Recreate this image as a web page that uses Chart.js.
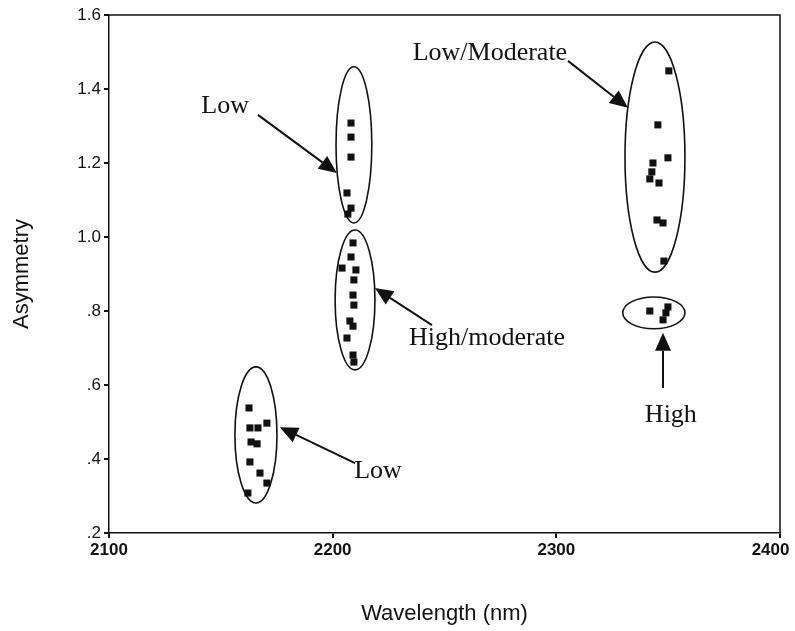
<!DOCTYPE html>
<html><head><meta charset="utf-8">
<script src="https://cdn.jsdelivr.net/npm/chart.js@4/dist/chart.umd.min.js"></script>
<style>html,body{margin:0;padding:0;background:#fff}</style>
</head><body>
<canvas id="c" width="795" height="631"></canvas>
<script>
// ---- data ----
const xTickValues = [2100, 2200, 2300, 2400];
const yTickValues = [0.2, 0.4, 0.6, 0.8, 1.0, 1.2, 1.4, 1.6];

const lowBottomX = [2162.6, 2163.0, 2166.6, 2170.6, 2163.5, 2166.2, 2163.0, 2167.5, 2170.6, 2162.1];
const lowBottomY = [0.538, 0.484, 0.484, 0.497, 0.446, 0.441, 0.392, 0.362, 0.335, 0.308];

const lowTopX = [2208.2, 2208.2, 2208.2, 2206.4, 2208.2, 2206.8];
const lowTopY = [1.308, 1.270, 1.216, 1.119, 1.078, 1.062];

const highModX = [2209.1, 2208.2, 2204.2, 2210.4, 2209.5, 2209.1, 2209.5, 2207.7, 2209.1, 2206.4, 2209.1, 2209.5];
const highModY = [0.984, 0.946, 0.916, 0.911, 0.884, 0.843, 0.816, 0.773, 0.759, 0.727, 0.681, 0.662];

const lowModX = [2350.3, 2345.4, 2349.9, 2343.2, 2342.7, 2341.8, 2345.9, 2345.0, 2347.7, 2348.1];
const lowModY = [1.449, 1.303, 1.214, 1.200, 1.176, 1.157, 1.146, 1.046, 1.038, 0.935];

const highX = [2341.8, 2349.9, 2349.0, 2347.7];
const highY = [0.800, 0.811, 0.795, 0.776];

// group ellipses: centre x, centre y, half-width (nm), half-height (asymmetry)
const ellipseCx = [2165.7, 2209.5, 2210.0, 2344.1, 2343.6];
const ellipseCy = [0.465, 1.249, 0.830, 1.216, 0.795];
const ellipseRx = [9.4, 8.0, 8.9, 13.4, 13.9];
const ellipseRy = [0.184, 0.211, 0.189, 0.311, 0.043];

// annotation labels: text, centre x, baseline y
const labelText = ['Low', 'Low/Moderate', 'High/moderate', 'High', 'Low'];
const labelX = [2151.9, 2270.3, 2269.0, 2351.2, 2220.3];
const labelY = [1.335, 1.478, 0.708, 0.500, 0.349];

// arrows: tail -> tip
const arrowTailX = [2166.6, 2305.2, 2244.4, 2347.7, 2210.0];
const arrowTailY = [1.330, 1.476, 0.762, 0.592, 0.389];
const arrowTipX = [2201.9, 2332.0, 2218.9, 2347.7, 2176.4];
const arrowTipY = [1.173, 1.349, 0.862, 0.741, 0.486];

function pts(xs, ys) { return xs.map((x, i) => ({x: x, y: ys[i]})); }

const groups = [
  ['Low (2165)', lowBottomX, lowBottomY],
  ['Low (2210)', lowTopX, lowTopY],
  ['High/moderate', highModX, highModY],
  ['Low/Moderate', lowModX, lowModY],
  ['High', highX, highY]
];

const annotations = {
  id: 'annotations',
  afterDatasetsDraw(chart) {
    const {ctx, chartArea: a, scales: {x, y}} = chart;
    ctx.save();
    // top/right frame
    ctx.strokeStyle = '#111';
    ctx.lineWidth = 1.5;
    ctx.beginPath();
    ctx.moveTo(a.left, a.top); ctx.lineTo(a.right, a.top); ctx.lineTo(a.right, a.bottom);
    ctx.stroke();
    // ellipses
    ctx.lineWidth = 1.6;
    for (let i = 0; i < ellipseCx.length; i++) {
      const cx = x.getPixelForValue(ellipseCx[i]);
      const cy = y.getPixelForValue(ellipseCy[i]);
      const rx = Math.abs(x.getPixelForValue(ellipseCx[i] + ellipseRx[i]) - cx);
      const ry = Math.abs(y.getPixelForValue(ellipseCy[i] + ellipseRy[i]) - cy);
      ctx.beginPath();
      ctx.ellipse(cx, cy, rx, ry, 0, 0, Math.PI * 2);
      ctx.stroke();
    }
    // arrows
    ctx.fillStyle = '#111';
    ctx.lineWidth = 2;
    for (let i = 0; i < arrowTailX.length; i++) {
      const x0 = x.getPixelForValue(arrowTailX[i]), y0 = y.getPixelForValue(arrowTailY[i]);
      const x1 = x.getPixelForValue(arrowTipX[i]), y1 = y.getPixelForValue(arrowTipY[i]);
      const ang = Math.atan2(y1 - y0, x1 - x0);
      const L = 18, W = 8;
      const bx = x1 - L * Math.cos(ang), by = y1 - L * Math.sin(ang);
      ctx.beginPath(); ctx.moveTo(x0, y0); ctx.lineTo(bx, by); ctx.stroke();
      ctx.beginPath();
      ctx.moveTo(x1, y1);
      ctx.lineTo(bx + W * Math.sin(ang), by - W * Math.cos(ang));
      ctx.lineTo(bx - W * Math.sin(ang), by + W * Math.cos(ang));
      ctx.closePath(); ctx.fill();
    }
    // labels
    ctx.font = '26px "Liberation Serif", "Times New Roman", serif';
    ctx.textAlign = 'center';
    ctx.textBaseline = 'alphabetic';
    for (let i = 0; i < labelText.length; i++) {
      ctx.fillText(labelText[i], x.getPixelForValue(labelX[i]), y.getPixelForValue(labelY[i]));
    }
    ctx.restore();
  }
};

Chart.defaults.font.family = '"Liberation Sans", Arial, sans-serif';
Chart.defaults.color = '#111';

new Chart(document.getElementById('c'), {
  type: 'scatter',
  data: {
    datasets: groups.map(g => ({
      label: g[0],
      data: pts(g[1], g[2]),
      pointStyle: 'rect',
      pointRadius: 5,
      pointHoverRadius: 5,
      backgroundColor: '#111',
      borderColor: '#111',
      borderWidth: 0
    }))
  },
  options: {
    responsive: false,
    animation: false,
    events: [],
    layout: {padding: {top: 15, right: 15, left: 0, bottom: 0}},
    plugins: {legend: {display: false}, tooltip: {enabled: false}},
    scales: {
      x: {
        type: 'linear', min: 2100, max: 2400,
        afterBuildTicks(s) { s.ticks = xTickValues.map(v => ({value: v})); },
        ticks: {font: {size: 17, weight: 'bold'}, color: '#111', padding: 2,
                callback: v => (v === 2400 ? '2400    ' : String(v)), maxRotation: 0},
        grid: {display: true, drawOnChartArea: false, drawTicks: true, tickLength: 5,
               color: '#111', lineWidth: 2},
        border: {display: true, color: '#111', width: 1.5},
        title: {display: true, text: 'Wavelength (nm)', font: {size: 22},
                color: '#111', padding: {top: 0, bottom: 4}},
        afterFit(s) { s.height = 98; s.paddingLeft = 0; s.paddingRight = 0; }
      },
      y: {
        type: 'linear', min: 0.2, max: 1.6,
        afterBuildTicks(s) { s.ticks = yTickValues.map(v => ({value: v})); },
        ticks: {font: {size: 17}, color: '#111', padding: 3,
                callback: v => { const t = Number(v).toFixed(1); return Number(v) < 1 ? t.replace(/^0/, '') : t; }},
        grid: {display: true, drawOnChartArea: false, drawTicks: true, tickLength: 5,
               color: '#111', lineWidth: 2},
        border: {display: true, color: '#111', width: 1.5},
        title: {display: true, text: 'Asymmetry', font: {size: 22},
                color: '#111', padding: {top: 9, bottom: 0}},
        afterFit(s) { s.width = 109; s.paddingTop = 0; s.paddingBottom = 0; }
      }
    }
  },
  plugins: [annotations]
});
</script>
</body></html>
